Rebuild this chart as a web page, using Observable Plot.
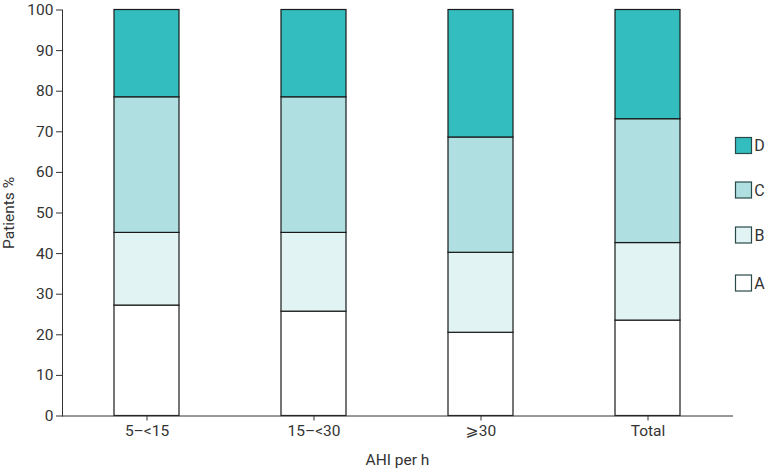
<!DOCTYPE html>
<html>
<head>
<meta charset="utf-8">
<script src="https://cdn.jsdelivr.net/npm/d3@7"></script>
<script src="https://cdn.jsdelivr.net/npm/@observablehq/plot@0.6"></script>
<style>
  html, body { margin: 0; padding: 0; background: #fff; }
  #chart { position: relative; width: 782px; height: 468px; }
</style>
</head>
<body>
<div id="chart"></div>
<script>
const groups = ["5\u2013<15", "15\u2013<30", "\u2a7e30", "Total"];
const series = ["A", "B", "C", "D"];
const valuesA = [27.2, 25.7, 20.5, 23.5];
const valuesB = [17.9, 19.4, 19.7, 19.1];
const valuesC = [33.4, 33.4, 28.4, 30.5];
const valuesD = [21.5, 21.5, 31.4, 26.9];
const colors = ["#ffffff", "#e2f3f4", "#afdfe1", "#33bdbf"];
const yTicks = [0, 10, 20, 30, 40, 50, 60, 70, 80, 90, 100];
const legendOrder = ["D", "C", "B", "A"];

const seriesValues = [valuesA, valuesB, valuesC, valuesD];
const data = [];
groups.forEach((g, i) => {
  series.forEach((s, j) => data.push({group: g, series: s, value: seriesValues[j][i]}));
});

const font = "Roboto, 'DejaVu Sans', sans-serif";
const fs = 15.5;

const plot = Plot.plot({
  width: 782,
  height: 468,
  marginLeft: 62,
  marginRight: 50,
  marginTop: 9.5,
  marginBottom: 52.5,
  style: {fontFamily: font, fontSize: fs + "px", color: "#333", background: "#fff"},
  x: {domain: groups, paddingInner: 0.61, paddingOuter: 0.31},
  y: {domain: [0, 100]},
  color: {domain: series, range: colors},
  marks: [
    Plot.barY(data, {x: "group", y: "value", fill: "series", stroke: "#1a1a1a", strokeWidth: 1.2}),
    Plot.frame({anchor: "left", stroke: "#333"}),
    Plot.frame({anchor: "bottom", stroke: "#333"}),
    Plot.axisY({ticks: yTicks, tickSize: 6, tickPadding: 3, stroke: "#333", fontSize: fs,
      label: "Patients %", labelAnchor: "center", labelArrow: "none", labelOffset: 60,
      fill: "#333"}),
    Plot.axisX({tickSize: 5, tickPadding: 4, stroke: "#333", fontSize: fs,
      label: "AHI per h", labelAnchor: "center", labelArrow: "none", labelOffset: 49,
      fill: "#333"})
  ]
});

document.getElementById("chart").appendChild(plot);

// Legend drawn into the same SVG, using the plot's color scale
const color = plot.scale("color");
const svg = d3.select(plot);
const legendTops = [137.5, 182, 227, 275];
const lg = svg.append("g").attr("font-family", font).attr("font-size", fs + 0.5).attr("fill", "#333");
legendOrder.forEach((s, i) => {
  const idx = color.domain.indexOf(s);
  lg.append("rect")
    .attr("x", 735.5).attr("y", legendTops[i])
    .attr("width", 16).attr("height", 16)
    .attr("fill", color.range[idx])
    .attr("stroke", "#2a4a4a").attr("stroke-width", 1.2);
  lg.append("text")
    .attr("x", 759.5).attr("y", legendTops[i] + 8)
    .attr("dy", "0.35em")
    .text(s);
});
</script>
</body>
</html>
